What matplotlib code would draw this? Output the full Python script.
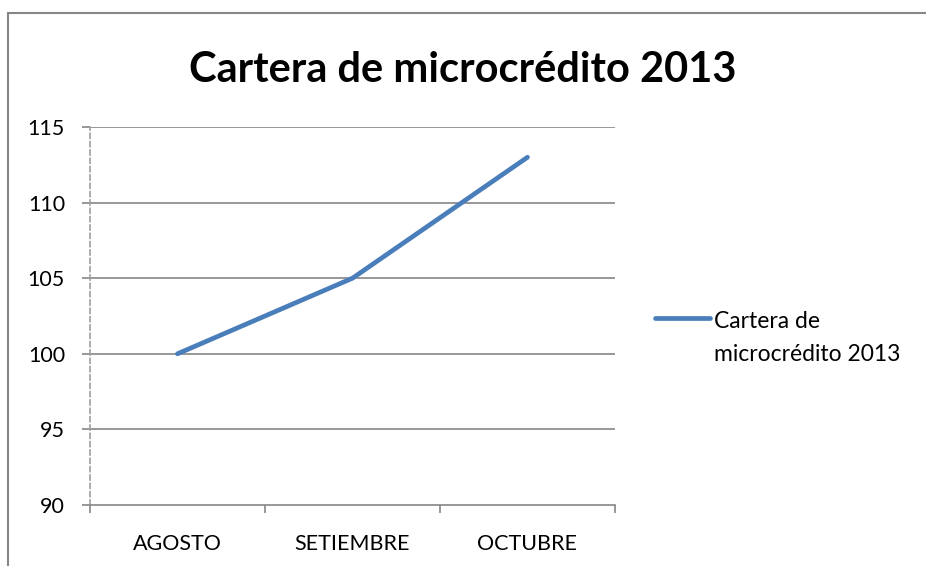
import matplotlib.pyplot as plt
from matplotlib.patches import Rectangle
from matplotlib.lines import Line2D

plt.rcParams['font.family'] = ['Lato', 'DejaVu Sans']

months = ['AGOSTO', 'SETIEMBRE', 'OCTUBRE']
values = [100, 105, 113]
series_name = 'Cartera de\nmicrocrédito 2013'
title = 'Cartera de microcrédito 2013'

W, H = 926, 566
fig = plt.figure(figsize=(W / 100, H / 100), dpi=100)

# outer chart frame (cut off at right and bottom)
fig.patches.append(Rectangle((8 / W, -0.1), 1.2, (H - 13) / H + 0.1,
                             transform=fig.transFigure, fill=False,
                             edgecolor='#868686', linewidth=1.5))

ax = fig.add_axes([90 / W, (H - 505) / H, (615 - 90) / W, (505 - 127) / H])
x = list(range(len(months)))
ax.plot(x, values, color='#4A7EBB', linewidth=3.4, solid_capstyle='round')

ax.set_xlim(-0.5, len(months) - 0.5)
ax.set_ylim(90, 115)
ax.set_yticks(range(90, 116, 5))
for v in range(95, 116, 5):
    ax.axhline(v, color='#868686', linewidth=1.2, zorder=0)

ax.set_xticks(x)
ax.set_xticklabels(months)
ax.tick_params(axis='x', length=0, pad=21, labelsize=15.5)
ax.set_xticks([-0.5, 0.5, 1.5, 2.5], minor=True)
ax.tick_params(axis='x', which='minor', length=6, color='#868686', width=1.2)
ax.tick_params(axis='y', length=6, color='#868686', width=1.2, pad=12, labelsize=15.5)

for s in ['top', 'right']:
    ax.spines[s].set_visible(False)
ax.spines['bottom'].set_color('#868686')
ax.spines['bottom'].set_linewidth(1.2)
ax.spines['left'].set_color('#a0a0a0')
ax.spines['left'].set_linewidth(1.2)
ax.spines['left'].set_linestyle((0, (3, 2)))

fig.text(463 / W, 1 - 70 / H, title, ha='center', va='center',
         fontsize=30, fontweight='bold')

# legend
fig.add_artist(Line2D([655 / W, 710 / W], [1 - 318 / H] * 2,
                      color='#4A7EBB', linewidth=3.4, solid_capstyle='round',
                      transform=fig.transFigure))
fig.text(714 / W, 1 - 338 / H, series_name, ha='left', va='center',
         fontsize=16.5, linespacing=1.7)

fig.savefig('out.png', dpi=100)
